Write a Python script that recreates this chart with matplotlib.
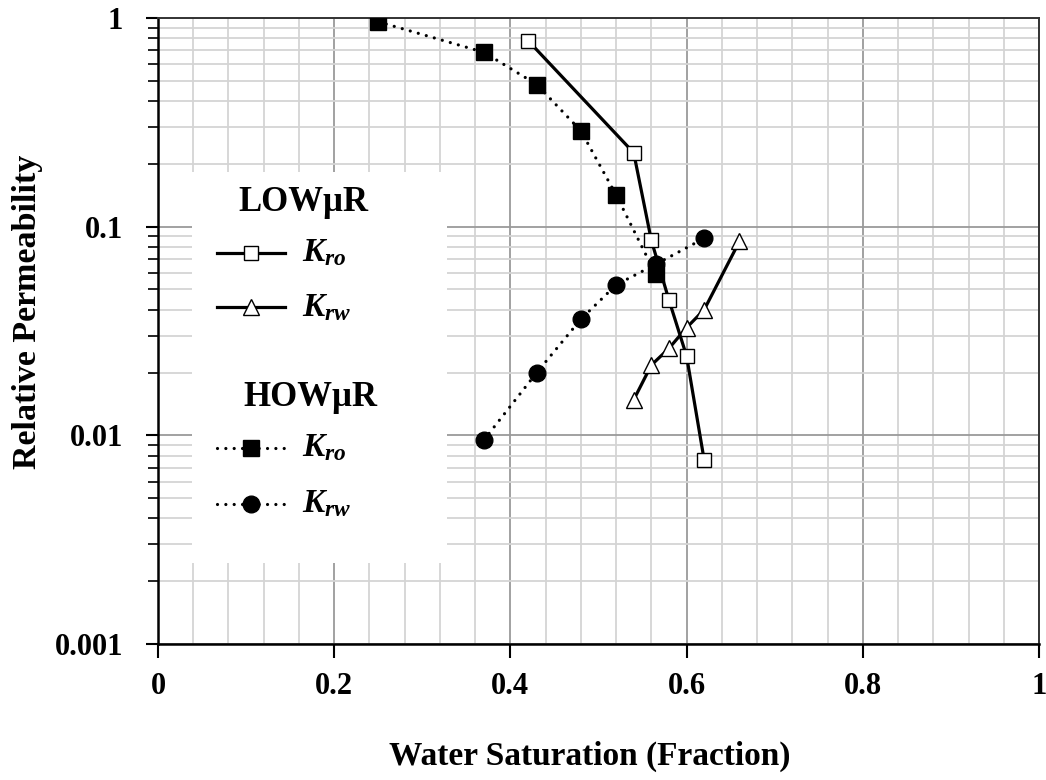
import matplotlib
matplotlib.use("Agg")
import matplotlib.pyplot as plt
from matplotlib.ticker import MultipleLocator, LogLocator, FixedLocator, NullFormatter
from matplotlib.lines import Line2D
from matplotlib.patches import Rectangle

plt.rcParams['font.family'] = ['Liberation Serif', 'DejaVu Serif']
plt.rcParams['font.weight'] = 'bold'
plt.rcParams['mathtext.fontset'] = 'custom'
plt.rcParams['mathtext.it'] = 'Liberation Serif:italic:bold'
plt.rcParams['mathtext.rm'] = 'Liberation Serif:bold'

# LOW oil/water viscosity ratio
low_sw_kro = [0.42, 0.54, 0.56, 0.58, 0.60, 0.62]
low_kro = [0.78, 0.226, 0.086, 0.0445, 0.024, 0.0076]
low_sw_krw = [0.54, 0.56, 0.58, 0.60, 0.62, 0.66]
low_krw = [0.0148, 0.0217, 0.0261, 0.0328, 0.040, 0.085]

# HIGH oil/water viscosity ratio
high_sw_kro = [0.25, 0.37, 0.43, 0.48, 0.52, 0.565]
high_kro = [0.96, 0.685, 0.48, 0.288, 0.142, 0.059]
high_sw_krw = [0.37, 0.43, 0.48, 0.52, 0.565, 0.62]
high_krw = [0.0095, 0.020, 0.036, 0.0526, 0.066, 0.088]

x_ticks = [0, 0.2, 0.4, 0.6, 0.8, 1]
x_labels = ['0', '0.2', '0.4', '0.6', '0.8', '1']
y_ticks = [0.001, 0.01, 0.1, 1]
y_labels = ['0.001', '0.01', '0.1', '1']

# round dots, spaced out
dot = (0, (0.01, 2.6))

fig = plt.figure(figsize=(10.46, 7.80), dpi=100)
ax = fig.add_axes([0.151, 0.1744, 0.8423, 0.8025])

# HOWμR curves (dotted, filled markers)
ax.plot(high_sw_krw, high_krw, color='black', lw=2.3, linestyle=dot, dash_capstyle='round',
        marker='o', ms=12, mfc='black', mec='black', zorder=3)
ax.plot(high_sw_kro, high_kro, color='black', lw=2.3, linestyle=dot, dash_capstyle='round',
        marker='s', ms=12, mfc='black', mec='black', zorder=3)

# LOWμR curves (solid, open markers)
ax.plot(low_sw_krw, low_krw, color='black', lw=2.3, marker='^', ms=11,
        mfc='white', mec='black', mew=1.0, zorder=4)
ax.plot(low_sw_kro, low_kro, color='black', lw=2.3, marker='s', ms=10.5,
        mfc='white', mec='black', mew=1.0, zorder=4)

ax.set_yscale('log')
ax.set_xlim(0, 1)
ax.set_ylim(0.001, 1)

ax.xaxis.set_major_locator(FixedLocator(x_ticks))
ax.xaxis.set_minor_locator(MultipleLocator(0.04))
ax.set_xticklabels(x_labels)
ax.yaxis.set_major_locator(FixedLocator(y_ticks))
ax.set_yticklabels(y_labels)
ax.yaxis.set_minor_locator(LogLocator(base=10, subs=range(2, 10)))
ax.yaxis.set_minor_formatter(NullFormatter())

ax.tick_params(axis='both', which='major', labelsize=22, direction='out', width=1.5, color='black')
ax.tick_params(axis='x', which='major', length=10, pad=10)
ax.tick_params(axis='y', which='major', length=9, pad=16)
ax.tick_params(axis='x', which='minor', length=0)
ax.tick_params(axis='y', which='minor', length=7, width=1.2, direction='out')

ax.set_axisbelow(True)
ax.grid(which='major', color='#9a9a9a', lw=1.3)
ax.grid(which='minor', color='#d4d4d4', lw=1.3)

for side in ['left', 'bottom']:
    ax.spines[side].set_linewidth(1.8)
for side in ['top', 'right']:
    ax.spines[side].set_linewidth(1.4)
    ax.spines[side].set_color('#333333')

ax.set_xlabel('Water Saturation (Fraction)', fontsize=24, fontweight='bold')
ax.set_ylabel('Relative Permeability', fontsize=24.5, fontweight='bold')
ax.xaxis.set_label_coords(0.49, -0.155)
ax.yaxis.set_label_coords(-0.130, 0.530)

# Legend drawn by hand: white panel with two groups
ax.add_patch(Rectangle((0.0386, 0.129), 0.2894, 0.625, transform=ax.transAxes,
                       facecolor='white', edgecolor='none', zorder=1.5))

def legend_row(y, ls, marker, mfc, ms, label):
    ax.add_line(Line2D([0.067, 0.144], [y, y], transform=ax.transAxes, color='black',
                       lw=2.3, linestyle=ls, dash_capstyle='round', zorder=3))
    ax.add_line(Line2D([0.1056], [y], transform=ax.transAxes, linestyle='none',
                       marker=marker, ms=ms, mfc=mfc, mec='black', mew=1.0, zorder=4))
    ax.text(0.1634, y, label, transform=ax.transAxes, fontsize=24, va='center', ha='left')

ax.text(0.1646, 0.706, 'LOWμR', transform=ax.transAxes, fontsize=25, fontweight='bold',
        ha='center', va='center')
legend_row(0.6246, '-', 's', 'white', 10.5, r'$K_{ro}$')
legend_row(0.538, '-', '^', 'white', 11, r'$K_{rw}$')
ax.text(0.1725, 0.393, 'HOWμR', transform=ax.transAxes, fontsize=25, fontweight='bold',
        ha='center', va='center')
legend_row(0.313, dot, 's', 'black', 12, r'$K_{ro}$')
legend_row(0.2236, dot, 'o', 'black', 12, r'$K_{rw}$')

fig.savefig('out.png', dpi=100)
